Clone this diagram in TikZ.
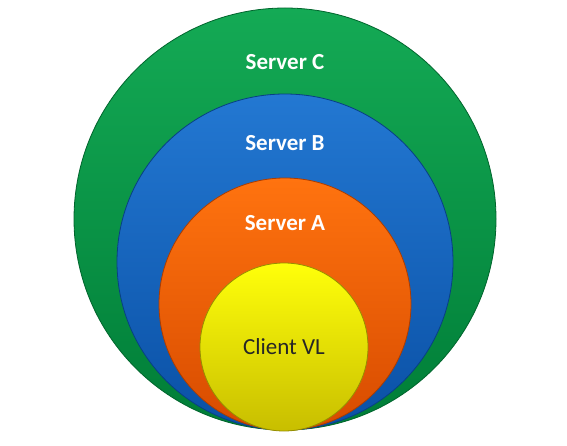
\documentclass[tikz,border=0pt]{standalone}
\usepackage{fontspec}
\setmainfont{Carlito}
\usepackage{tikz}
\usetikzlibrary{positioning}
\definecolor{grtop}{RGB}{20,170,85}
\definecolor{grbot}{RGB}{0,125,55}
\definecolor{bltop}{RGB}{35,120,210}
\definecolor{blbot}{RGB}{10,80,165}
\definecolor{ortop}{RGB}{255,115,15}
\definecolor{orbot}{RGB}{215,75,0}
\definecolor{yltop}{RGB}{255,255,10}
\definecolor{ylbot}{RGB}{200,190,0}

\begin{document}
\begin{tikzpicture}[x=1pt, y=-1pt,
  ring/.style={circle, inner sep=0pt, line width=0.8pt},
  lbl/.style={font=\fontsize{23}{26}\selectfont\bfseries, text=white},
  clbl/.style={font=\fontsize{23}{26}\selectfont, text=black!85}
]
  \useasboundingbox (0,0) rectangle (567,446);
  \node[ring, minimum size=422pt, top color=grtop, bottom color=grbot, draw=grbot!80!black] (srvC) at (285,219) {};
  \node[ring, minimum size=336pt, top color=bltop, bottom color=blbot, draw=blbot!80!black] (srvB) at (285,262) {};
  \node[ring, minimum size=252pt, top color=ortop, bottom color=orbot, draw=orbot!80!black] (srvA) at (285,304) {};
  \node[ring, minimum size=168pt, top color=yltop, bottom color=ylbot, draw=ylbot!75!black] (client) at (284,347) {};

  \node[lbl] (tC) at (285,62) {Server C};
  \node[lbl] (tB) at (285,143) {Server B};
  \node[lbl] (tA) at (285,223) {Server A};
  \node[clbl] (tV) at (284,347) {Client VL};
\end{tikzpicture}
\end{document}
